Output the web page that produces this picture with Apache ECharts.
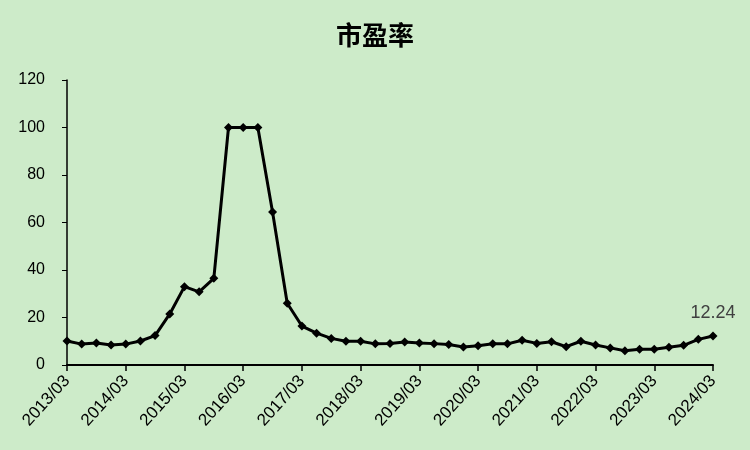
<!DOCTYPE html>
<html>
<head>
<meta charset="utf-8">
<script src="https://cdn.jsdelivr.net/npm/echarts@6/dist/echarts.min.js"></script>
<style>html,body{margin:0;padding:0;background:#cdebc9;}#c{width:750px;height:450px;}</style>
</head>
<body>
<div id="c"></div>
<script>
var titleText = '市盈率';
var categories = [
 '2013/03','2013/06','2013/09','2013/12',
 '2014/03','2014/06','2014/09','2014/12',
 '2015/03','2015/06','2015/09','2015/12',
 '2016/03','2016/06','2016/09','2016/12',
 '2017/03','2017/06','2017/09','2017/12',
 '2018/03','2018/06','2018/09','2018/12',
 '2019/03','2019/06','2019/09','2019/12',
 '2020/03','2020/06','2020/09','2020/12',
 '2021/03','2021/06','2021/09','2021/12',
 '2022/03','2022/06','2022/09','2022/12',
 '2023/03','2023/06','2023/09','2023/12',
 '2024/03'
];
var peValues = [
 10.1, 8.8, 9.3, 8.4,
 8.8, 10.1, 12.4, 21.5,
 33.0, 30.8, 36.5, 100,
 100, 100, 64.4, 26.0,
 16.4, 13.4, 11.2, 10.0,
 10.0, 8.9, 9.1, 9.7,
 9.3, 9.0, 8.6, 7.6,
 8.1, 8.9, 8.9, 10.4,
 9.1, 9.8, 7.7, 10.0,
 8.4, 7.2, 6.0, 6.6,
 6.6, 7.5, 8.3, 10.8,
 12.24
];
var yTicks = { min: 0, max: 120, interval: 20 };

var chart = echarts.init(document.getElementById('c'));
chart.setOption({
  backgroundColor: '#cdebc9',
  animation: false,
  title: {
    text: titleText, left: 'center', top: 17,
    textStyle: { fontFamily: 'Noto Sans CJK SC', fontSize: 26, fontWeight: 'bold', color: '#000' }
  },
  grid: { left: 67, right: 37, top: 80, bottom: 85 },
  xAxis: {
    type: 'category', data: categories, boundaryGap: false,
    axisLine: { lineStyle: { color: '#000', width: 2 } },
    axisTick: { show: true, interval: 3, length: 6, lineStyle: { color: '#000', width: 1.5 } },
    axisLabel: { interval: 3, rotate: 48, fontFamily: 'Liberation Sans', fontSize: 17, color: '#000', margin: 13 },
    splitLine: { show: false }
  },
  yAxis: {
    type: 'value', min: yTicks.min, max: yTicks.max, interval: yTicks.interval,
    axisLine: { show: true, lineStyle: { color: '#000', width: 1.5 } },
    axisTick: { show: true, length: 5, lineStyle: { color: '#000', width: 1 } },
    axisLabel: { fontFamily: 'Liberation Sans', fontSize: 16, color: '#000', margin: 22 },
    splitLine: { show: false }
  },
  series: [{
    type: 'line', data: peValues,
    symbol: 'diamond', symbolSize: 9, showAllSymbol: true,
    lineStyle: { color: '#000', width: 3 },
    itemStyle: { color: '#000' },
    label: {
      show: true, position: 'top', distance: 9,
      fontFamily: 'Liberation Sans', fontSize: 18, color: '#404040',
      formatter: function (p) { return p.dataIndex === peValues.length - 1 ? String(p.value) : ''; }
    }
  }]
});
</script>
</body>
</html>
